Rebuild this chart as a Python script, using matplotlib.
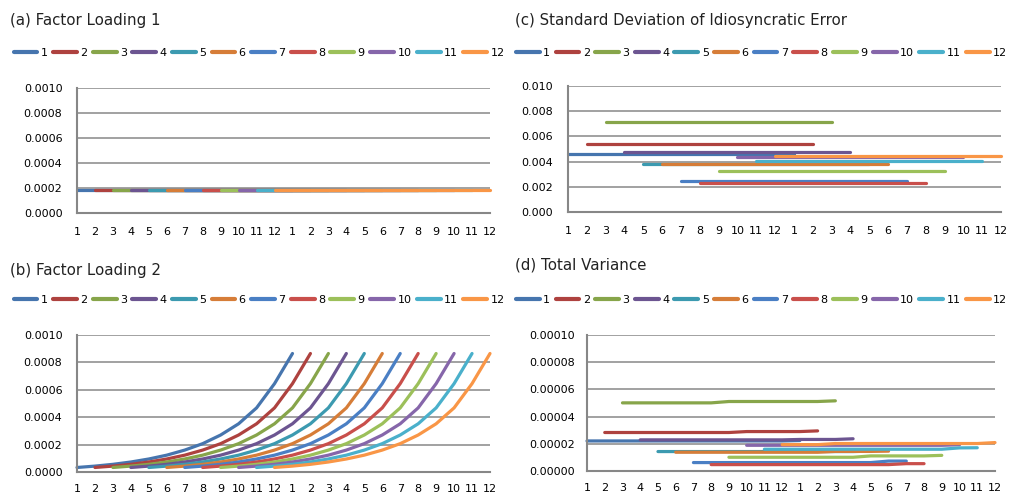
import numpy as np
import matplotlib.pyplot as plt
from matplotlib.ticker import FormatStrFormatter

plt.rcParams['font.family'] = ['DejaVu Sans']

# x axis: two years of months
months = [str(m) for m in range(1, 13)] * 2
series_names = [str(i) for i in range(1, 13)]
colors = ['#4675AE', '#AE423F', '#87A54A', '#6C5591', '#3C9AB0', '#D67D38',
          '#4A7FC4', '#C94F4B', '#9CC05A', '#8666AA', '#4AB0CB', '#F99646']

# (a) same flat curve for every series (13 months each)
loading1_curve = [0.000183, 0.000183, 0.000183, 0.000183, 0.000183, 0.000183, 0.000183,
                  0.000183, 0.000183, 0.000183, 0.000183, 0.000183, 0.000183]
# (b) same rising curve, shifted one month per series
loading2_curve = [0.000033, 0.000043, 0.000056, 0.000073, 0.000095, 0.000123, 0.000160,
                  0.000207, 0.000270, 0.000352, 0.000468, 0.000645, 0.000865]
# (c) flat level per series
sd_error = [0.00464, 0.00538, 0.00716, 0.00477, 0.00382, 0.00383,
            0.00249, 0.00228, 0.00326, 0.00435, 0.00408, 0.00448]
# (d) total variance, in units of 1e-6
total_var = [
    [22.1, 22.1, 22.1, 22.1, 22.1, 22.1, 22.1, 22.1, 22.1, 22.1, 22.1, 22.1, 22.4],
    [28.3, 28.3, 28.3, 28.3, 28.3, 28.3, 28.3, 28.3, 29.0, 29.0, 29.0, 29.0, 29.5],
    [50.1, 50.1, 50.1, 50.1, 50.1, 50.1, 51.1, 51.1, 51.1, 51.1, 51.1, 51.1, 51.6],
    [22.9, 22.9, 22.9, 22.9, 22.9, 22.9, 22.9, 22.9, 22.9, 23.2, 23.2, 23.2, 23.7],
    [14.3, 14.3, 14.3, 14.3, 14.3, 14.3, 14.3, 14.3, 14.3, 14.3, 14.3, 14.3, 14.6],
    [13.8, 13.8, 13.8, 13.8, 13.8, 13.8, 13.8, 13.8, 13.8, 14.4, 14.4, 14.4, 14.6],
    [6.2, 6.2, 6.2, 6.2, 6.2, 6.2, 6.2, 6.2, 6.2, 6.2, 6.2, 7.3, 7.3],
    [4.7, 4.7, 4.7, 4.7, 4.7, 4.7, 4.7, 4.7, 4.7, 4.7, 4.7, 5.4, 5.4],
    [10.1, 10.1, 10.1, 10.1, 10.1, 10.1, 10.1, 10.1, 11.1, 11.1, 11.1, 11.1, 11.5],
    [18.9, 18.9, 18.9, 18.9, 18.9, 18.9, 18.9, 18.9, 18.9, 18.9, 18.9, 18.9, 19.3],
    [16.0, 16.0, 16.0, 16.0, 16.0, 16.0, 16.0, 16.0, 16.0, 16.0, 16.0, 17.0, 17.1],
    [19.4, 19.4, 19.4, 20.2, 20.2, 20.2, 20.2, 20.2, 20.2, 20.2, 20.2, 20.2, 20.9],
]

W, H = 1016, 495
fig = plt.figure(figsize=(W / 100, H / 100), dpi=100)
grid_col = '#878787'


def panel(box, title, title_xy, legend_xy, series, ymax, fmt, ypad, xpad):
    # box = (left, top, right, bottom) in pixels
    l, t, r, b = box
    ax = fig.add_axes([l / W, 1 - b / H, (r - l) / W, (b - t) / H])
    x = np.arange(len(months))
    for i, vals in enumerate(series):
        ax.plot(x[i:i + len(vals)], vals, color=colors[i], lw=2.3,
                solid_capstyle='round', clip_on=False, label=series_names[i])
    ax.set_xlim(0, len(months) - 1)
    ax.set_ylim(0, ymax)
    ax.set_yticks(np.linspace(0, ymax, 6))
    ax.yaxis.set_major_formatter(FormatStrFormatter(fmt))
    ax.set_xticks(x)
    ax.set_xticklabels(months)
    ax.tick_params(length=0, labelsize=8, colors='black')
    ax.tick_params(axis='y', pad=ypad)
    ax.tick_params(axis='x', pad=xpad)
    ax.grid(axis='y', color=grid_col, lw=1.1)
    ax.set_axisbelow(True)
    for s in ['top', 'right']:
        ax.spines[s].set_visible(False)
    for s in ['left', 'bottom']:
        ax.spines[s].set_color(grid_col)
        ax.spines[s].set_linewidth(1.5)

    fig.text(title_xy[0] / W, 1 - title_xy[1] / H, title, fontsize=10.8,
             ha='left', va='center', color='#222222')
    handles, labels = ax.get_legend_handles_labels()
    leg = fig.legend(handles, labels, ncol=12, loc='center left',
                     bbox_to_anchor=(legend_xy[0] / W, 1 - legend_xy[1] / H),
                     frameon=False, fontsize=8, handlelength=2.15,
                     handletextpad=0.3, columnspacing=0.48,
                     borderpad=0, borderaxespad=0)
    for line in leg.get_lines():
        line.set_linewidth(3)
    return ax


panel((77, 88, 490, 213), '(a) Factor Loading 1', (10, 21), (13.5, 53),
      [loading1_curve] * 12, 0.001, '%.4f', 10.5, 10)
panel((568, 86, 1001, 212), '(c) Standard Deviation of Idiosyncratic Error', (515, 20), (516, 53),
      [[v] * 13 for v in sd_error], 0.010, '%.3f', 11, 10)
panel((77, 335, 490, 472), '(b) Factor Loading 2', (10, 270), (13.5, 300),
      [loading2_curve] * 12, 0.001, '%.4f', 10.5, 8.5)
panel((587, 335, 995, 471), '(d) Total Variance', (515, 265), (516, 300),
      [[v * 1e-6 for v in row] for row in total_var], 0.0001, '%.5f', 8.5, 8.5)

fig.savefig('out.png', dpi=100)
